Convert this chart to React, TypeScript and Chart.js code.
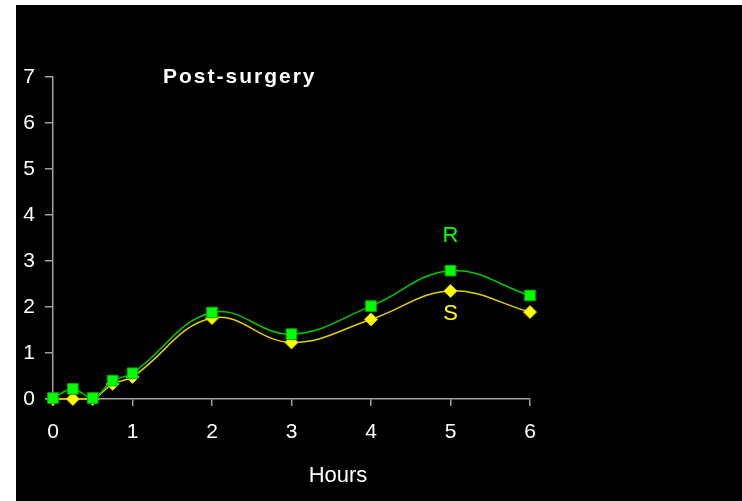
import React, { useEffect, useRef } from "react";
import { Chart, registerables } from "chart.js";

Chart.register(...registerables);

const hours = [0, 0.25, 0.5, 0.75, 1, 2, 3, 4, 5, 6];
const rValues = [0.02, 0.22, 0.02, 0.4, 0.56, 1.88, 1.41, 2.02, 2.79, 2.25];
const sValues = [0, 0, 0, 0.33, 0.48, 1.76, 1.23, 1.73, 2.35, 1.89];
const yTicks = [0, 1, 2, 3, 4, 5, 6, 7];
const xTicks = [0, 1, 2, 3, 4, 5, 6];
const titleText = "Post-surgery";
const xAxisTitle = "Hours";
const seriesNames = ["R", "S"];

const FONT = "Arial, 'Liberation Sans', sans-serif";

export default function App() {
  const ref = useRef<HTMLCanvasElement | null>(null);

  useEffect(() => {
    if (!ref.current) return;
    const textPlugin = {
      id: "texts",
      afterDraw(chart: any) {
        const ctx = chart.ctx;
        const xs = chart.scales.x;
        const ys = chart.scales.y;
        ctx.save();
        ctx.fillStyle = "#ffffff";
        ctx.font = `bold 21px ${FONT}`;
        (ctx as any).letterSpacing = "2px";
        ctx.textAlign = "left";
        ctx.textBaseline = "alphabetic";
        ctx.fillText(titleText, 147, 78);
        (ctx as any).letterSpacing = "0px";
        ctx.font = `22px ${FONT}`;
        ctx.textAlign = "center";
        ctx.textBaseline = "middle";
        ctx.fillText(xAxisTitle, 322, 471);
        ctx.fillStyle = "#00ff00";
        ctx.fillText(seriesNames[0], xs.getPixelForValue(5), ys.getPixelForValue(3.54));
        ctx.fillStyle = "#ffff00";
        ctx.fillText(seriesNames[1], xs.getPixelForValue(5), ys.getPixelForValue(1.85));
        ctx.restore();
      },
    };

    const chart = new Chart(ref.current, {
      type: "line",
      data: {
        datasets: [
          {
            label: seriesNames[0],
            data: hours.map((h, i) => ({ x: h, y: rValues[i] })),
            borderColor: "#00c800",
            borderWidth: 1.5,
            backgroundColor: "#00ff00",
            pointBackgroundColor: "#00ff00",
            pointBorderColor: "#00b000",
            pointBorderWidth: 1,
            pointStyle: "rect",
            pointRadius: 7.5,
            tension: 0.4,
            fill: false,
            clip: false,
          },
          {
            label: seriesNames[1],
            data: hours.map((h, i) => ({ x: h, y: sValues[i] })),
            borderColor: "#e0d000",
            borderWidth: 1.5,
            backgroundColor: "#ffff00",
            pointBackgroundColor: "#ffff00",
            pointBorderColor: "#d8d000",
            pointBorderWidth: 1,
            pointStyle: "rectRot",
            pointRadius: 6.5,
            tension: 0.4,
            fill: false,
            clip: false,
          },
        ],
      },
      options: {
        responsive: false,
        animation: false,
        layout: { padding: { top: 72, right: 212, left: 0, bottom: 0 } },
        plugins: {
          legend: { display: false },
          tooltip: { enabled: false },
          title: { display: false },
        },
        scales: {
          x: {
            type: "linear",
            min: 0,
            max: 6,
            afterFit(scale: any) {
              scale.height = 102;
            },
            afterBuildTicks(scale: any) {
              scale.ticks = xTicks.map((v) => ({ value: v }));
            },
            border: { display: true, color: "#a0a0a0", width: 1.5 },
            grid: {
              display: true,
              drawOnChartArea: false,
              drawTicks: true,
              tickLength: 7,
              color: "#a0a0a0",
              lineWidth: 1.5,
            },
            ticks: {
              color: "#ffffff",
              font: { family: FONT, size: 21 },
              padding: 14,
              maxRotation: 0,
            },
          },
          y: {
            type: "linear",
            min: 0,
            max: 7,
            afterFit(scale: any) {
              scale.width = 37;
            },
            afterBuildTicks(scale: any) {
              scale.ticks = yTicks.map((v) => ({ value: v }));
            },
            border: { display: true, color: "#a0a0a0", width: 1.5 },
            grid: {
              display: true,
              drawOnChartArea: false,
              drawTicks: true,
              tickLength: 8,
              color: "#a0a0a0",
              lineWidth: 1.5,
            },
            ticks: {
              color: "#ffffff",
              font: { family: FONT, size: 21 },
              padding: 10,
            },
          },
        },
      },
      plugins: [textPlugin],
    } as any);
    return () => chart.destroy();
  }, []);

  return (
    <div style={{ position: "fixed", left: 0, top: 0, width: 742, height: 501, background: "#ffffff" }}>
      <div style={{ position: "absolute", left: 16, top: 5, width: 726, height: 496, background: "#000000" }}>
        <canvas ref={ref} width={726} height={496} style={{ display: "block", width: 726, height: 496 }} />
      </div>
    </div>
  );
}
